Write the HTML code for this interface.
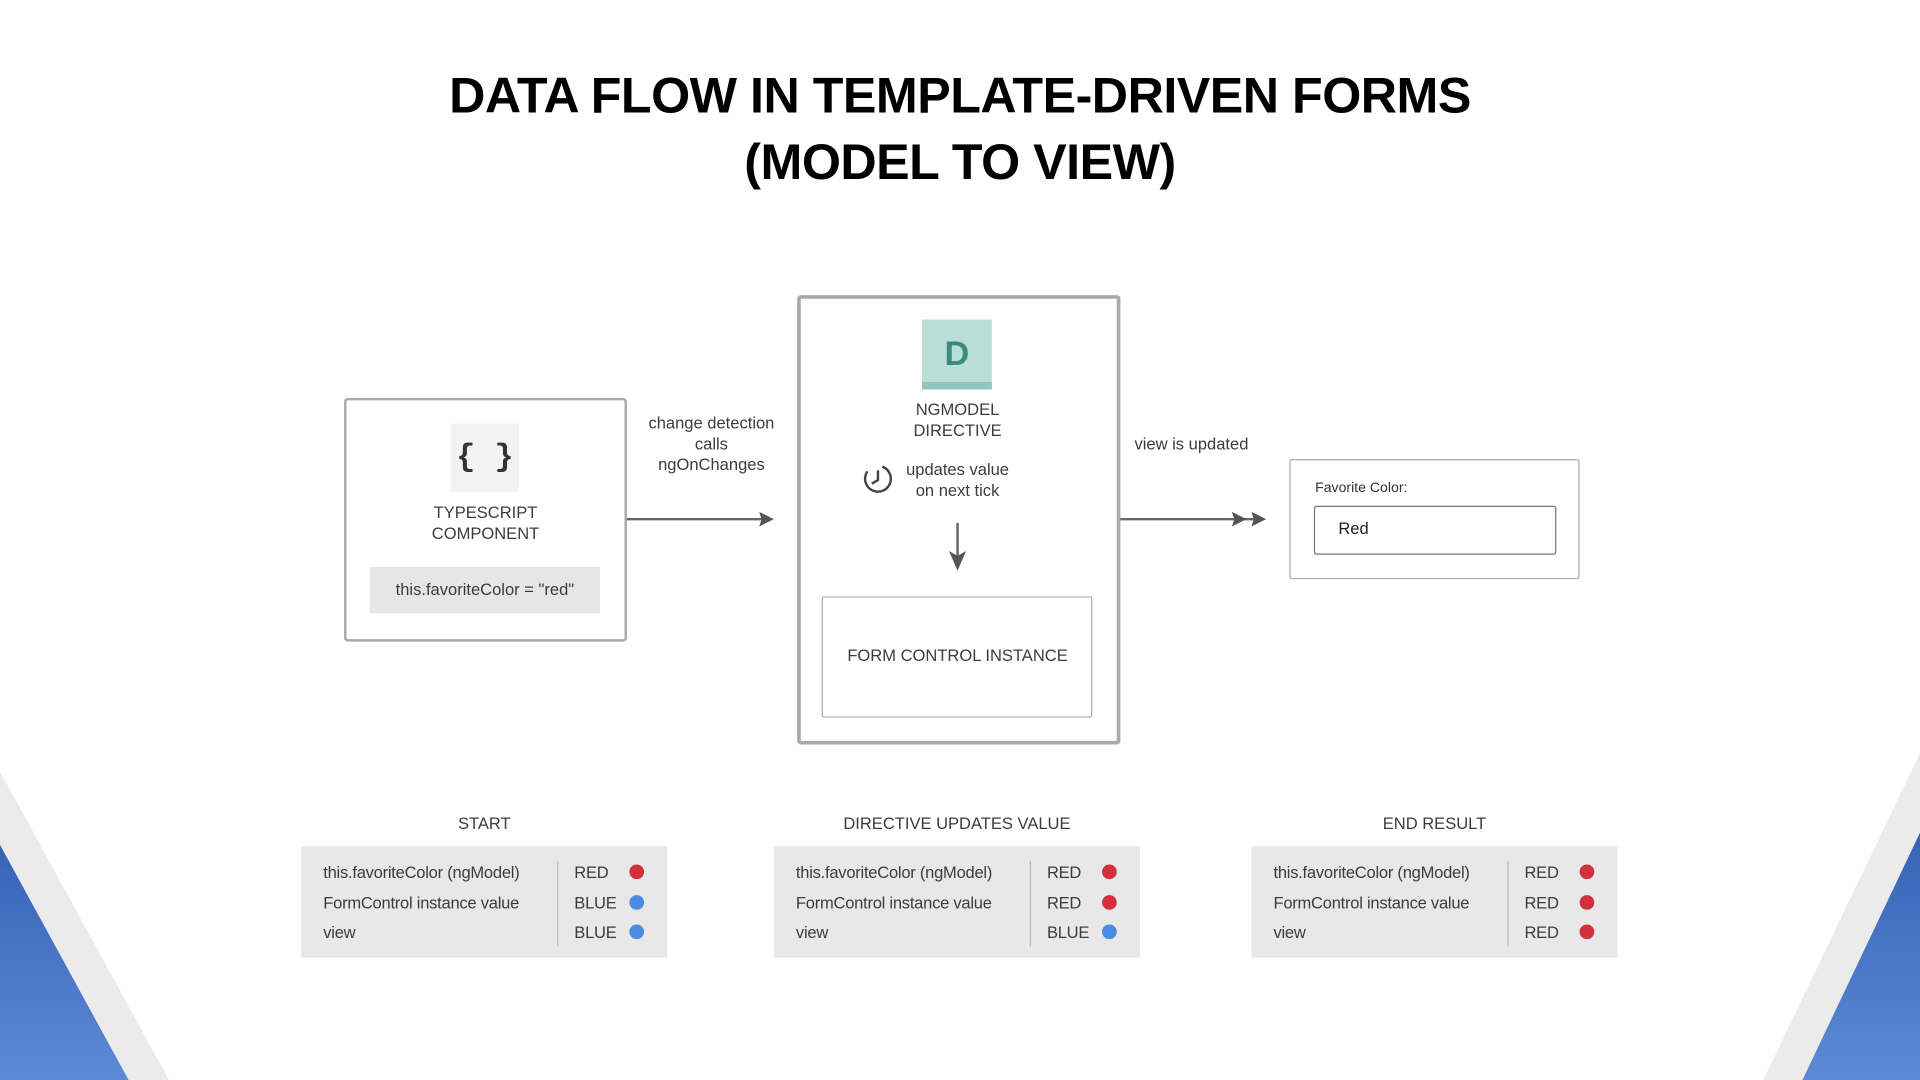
<!DOCTYPE html>
<html><head><meta charset="utf-8"><style>
html,body{margin:0;padding:0;width:1920px;height:1080px;overflow:hidden;background:#fff}
#s{position:absolute;left:0;top:0;width:1568px;height:882px;transform:scale(1.22449);transform-origin:0 0;font-family:"Liberation Sans",sans-serif;color:#3c3c3c}
.a{position:absolute}
.t{position:absolute;left:0;width:1568px;text-align:center;font-weight:bold;font-size:41px;color:#000;letter-spacing:-0.4px}
.c{text-align:center;font-size:13.5px;line-height:17px}
.tb{position:absolute;background:#e8e8e8;width:299px;height:91px;top:691px;font-size:13.5px;letter-spacing:-0.2px}
.tb div{position:absolute}
.dv{left:209px;top:12px;width:1px;height:70px;background:#bbb}
.dot{width:12px;height:12px;border-radius:50%}
.r{background:#d32f3c}.b{background:#4a8ce0}
.th{position:absolute;top:665px;width:299px;text-align:center;font-size:13.5px}
</style></head><body><div id="s">
<svg class="a" style="left:0;top:0" width="1568" height="882">
<defs><linearGradient id="g" x1="0" y1="0" x2="0" y2="1"><stop offset="0" stop-color="#3763b5"/><stop offset="1" stop-color="#5b8ad6"/></linearGradient></defs>
<polygon points="0,630 138,882 0,882" fill="#ebebeb"/>
<polygon points="0,690 105,882 0,882" fill="url(#g)"/>
<polygon points="1568,615 1440,882 1568,882" fill="#ebebeb"/>
<polygon points="1568,680 1472,882 1568,882" fill="url(#g)"/>
<g stroke="#666" stroke-width="2" fill="none">
<line x1="511" y1="424" x2="628" y2="424"/>
<line x1="913" y1="424" x2="1030" y2="424"/>
<line x1="782" y1="427" x2="782" y2="460"/>
</g>
<g fill="#555">
<polygon points="632,424 620,418 622,424 620,430"/>
<polygon points="1018,424 1006,418 1008,424 1006,430"/>
<polygon points="1034,424 1022,418 1024,424 1022,430"/>
<polygon points="782,466 775,450 782,454 789,450"/>
</g>
<circle cx="717" cy="391" r="10.5" fill="none" stroke="#444" stroke-width="2" stroke-dasharray="52 14" transform="rotate(-70 717 391)"/>
<polyline points="717,384 717,392 712,395" fill="none" stroke="#444" stroke-width="2"/>
</svg>
<div class="t" style="top:55px">DATA FLOW IN TEMPLATE-DRIVEN FORMS</div>
<div class="t" style="top:109px">(MODEL TO VIEW)</div>

<div class="a" style="left:281px;top:325px;width:227px;height:195px;border:2px solid #aaa;border-radius:3px"></div>
<div class="a" style="left:368px;top:346px;width:56px;height:56px;background:#f3f3f3;text-align:center;font:bold 26px 'Liberation Mono',monospace;line-height:54px;color:#333">{ }</div>
<div class="a c" style="left:281px;top:410px;width:231px">TYPESCRIPT<br>COMPONENT</div>
<div class="a c" style="left:302px;top:463px;width:188px;height:38px;line-height:38px;background:#e6e6e6">this.favoriteColor = "red"</div>
<div class="a c" style="left:511px;top:337px;width:140px">change detection<br>calls<br>ngOnChanges</div>

<div class="a" style="left:651px;top:241px;width:258px;height:361px;border:3px solid #aaa;border-radius:3px"></div>
<div class="a" style="left:753px;top:261px;width:57px;height:57px;background:#b9ddd7"><div class="a" style="left:0;bottom:0;width:57px;height:6px;background:#8fc7bd"></div><div class="a" style="left:0;top:12px;width:57px;text-align:center;font:bold 28px 'Liberation Sans',sans-serif;color:#3a8c7e">D</div></div>
<div class="a c" style="left:651px;top:326px;width:262px">NGMODEL<br>DIRECTIVE</div>
<div class="a c" style="left:732px;top:375px;width:100px">updates value<br>on next tick</div>
<div class="a" style="left:671px;top:487px;width:219px;height:97px;border:1.5px solid #aaa;border-radius:2px"></div>
<div class="a c" style="left:671px;top:527px;width:222px">FORM CONTROL INSTANCE</div>
<div class="a c" style="left:913px;top:354px;width:120px">view is updated</div>

<div class="a" style="left:1053px;top:375px;width:235px;height:96px;border:1.5px solid #aaa;border-radius:2px"></div>
<div class="a" style="left:1074px;top:393px;font-size:11.5px;color:#333">Favorite Color:</div>
<div class="a" style="left:1073px;top:413px;width:196px;height:38px;border:1px solid #777;border-radius:2px"></div>
<div class="a" style="left:1093px;top:424px;font-size:13.5px;color:#222">Red</div>

<div class="th" style="left:246px">START</div>
<div class="th" style="left:632px">DIRECTIVE UPDATES VALUE</div>
<div class="th" style="left:1022px">END RESULT</div>

<div class="tb" style="left:246px">
<div style="left:18px;top:14px">this.favoriteColor (ngModel)</div><div style="left:18px;top:39px">FormControl instance value</div><div style="left:18px;top:63px">view</div>
<div class="dv"></div>
<div style="left:223px;top:14px">RED</div><div style="left:223px;top:39px">BLUE</div><div style="left:223px;top:63px">BLUE</div>
<div class="dot r" style="left:268px;top:15px"></div><div class="dot b" style="left:268px;top:40px"></div><div class="dot b" style="left:268px;top:64px"></div>
</div>
<div class="tb" style="left:632px">
<div style="left:18px;top:14px">this.favoriteColor (ngModel)</div><div style="left:18px;top:39px">FormControl instance value</div><div style="left:18px;top:63px">view</div>
<div class="dv"></div>
<div style="left:223px;top:14px">RED</div><div style="left:223px;top:39px">RED</div><div style="left:223px;top:63px">BLUE</div>
<div class="dot r" style="left:268px;top:15px"></div><div class="dot r" style="left:268px;top:40px"></div><div class="dot b" style="left:268px;top:64px"></div>
</div>
<div class="tb" style="left:1022px">
<div style="left:18px;top:14px">this.favoriteColor (ngModel)</div><div style="left:18px;top:39px">FormControl instance value</div><div style="left:18px;top:63px">view</div>
<div class="dv"></div>
<div style="left:223px;top:14px">RED</div><div style="left:223px;top:39px">RED</div><div style="left:223px;top:63px">RED</div>
<div class="dot r" style="left:268px;top:15px"></div><div class="dot r" style="left:268px;top:40px"></div><div class="dot r" style="left:268px;top:64px"></div>
</div>
</div></body></html>
